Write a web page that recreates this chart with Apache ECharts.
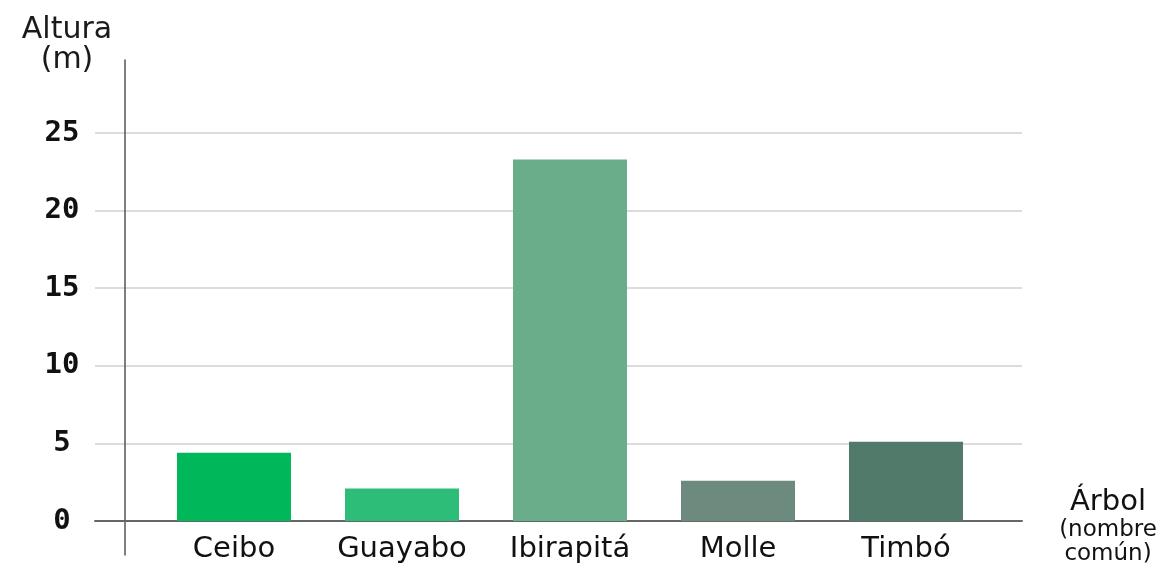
<!DOCTYPE html>
<html>
<head>
<meta charset="utf-8">
<script src="https://cdn.jsdelivr.net/npm/echarts@6/dist/echarts.min.js"></script>
<style>
  html, body { margin: 0; padding: 0; background: #fff; }
  #chart { width: 1164px; height: 574px; }
</style>
</head>
<body>
<div id="chart"></div>
<script>
// datos
const arboles = ['Ceibo', 'Guayabo', 'Ibirapitá', 'Molle', 'Timbó']
const alturas = [4.4, 2.1, 23.3, 2.6, 5.1]
const colores = ['#00b85a', '#2ebd79', '#69ad8a', '#6c8a7d', '#527a6a']
const yTicks = [0, 5, 10, 15, 20, 25]

const myChart = echarts.init(document.getElementById('chart'))
const sans = 'DejaVu Sans'
const mono = 'DejaVu Sans Mono'

const option = {
  animation: false,
  title: {
    text: 'Altura\n(m)',
    left: 62,
    top: 10,
    textAlign: 'center',
    textStyle: { fontFamily: sans, fontSize: 30, fontWeight: 'normal', color: '#1a1a1a', lineHeight: 30 }
  },
  grid: [
    // barras
    { left: 150, right: 174, top: 133, bottom: 53 },
    // líneas de la cuadrícula y eje x
    { left: 95, right: 142, top: 133, bottom: 53 },
    // eje y
    { left: 125, width: 10, top: 60, bottom: 19 }
  ],
  xAxis: [
    {
      gridIndex: 0,
      type: 'category',
      data: arboles,
      axisLine: { show: false },
      axisTick: { show: false },
      axisLabel: { interval: 0, hideOverlap: false, margin: 14, fontFamily: sans, fontSize: 29, color: '#111' }
    },
    {
      gridIndex: 1,
      type: 'category',
      data: [''],
      name: '{a|Árbol}\n{b|(nombre}\n{b|común)}',
      nameLocation: 'end',
      nameGap: 86,
      nameTextStyle: {
        align: 'center',
        padding: [10, 0, 0, 0],
        rich: {
          a: { fontFamily: sans, fontSize: 29, color: '#111', lineHeight: 32, align: 'center' },
          b: { fontFamily: sans, fontSize: 23, color: '#111', lineHeight: 24, align: 'center' }
        }
      },
      axisLine: { lineStyle: { color: '#666', width: 2 } },
      axisTick: { show: false },
      axisLabel: { show: false }
    },
    {
      gridIndex: 2,
      type: 'value',
      show: false
    }
  ],
  yAxis: [
    {
      gridIndex: 0,
      type: 'value',
      min: 0,
      max: 25,
      interval: 5,
      show: false
    },
    {
      gridIndex: 1,
      type: 'value',
      min: 0,
      max: 25,
      interval: 5,
      axisLine: { show: false },
      axisTick: { show: false },
      splitLine: { lineStyle: { color: '#dcdcdc', width: 2 } },
      axisLabel: {
        margin: 33,
        align: 'center',
        fontFamily: mono,
        fontSize: 29,
        fontWeight: 'bold',
        color: '#111',
        padding: [0, 0, 6, 0],
        formatter: v => (yTicks.includes(v) ? String(v) : '')
      }
    },
    {
      gridIndex: 2,
      type: 'value',
      axisLine: { show: true, lineStyle: { color: '#555', width: 1.5 } },
      axisTick: { show: false },
      axisLabel: { show: false },
      splitLine: { show: false }
    }
  ],
  series: [
    {
      type: 'bar',
      xAxisIndex: 0,
      yAxisIndex: 0,
      barWidth: 114,
      data: alturas.map((v, i) => ({ value: v, itemStyle: { color: colores[i] } }))
    }
  ]
}

option && myChart.setOption(option)
</script>
</body>
</html>
